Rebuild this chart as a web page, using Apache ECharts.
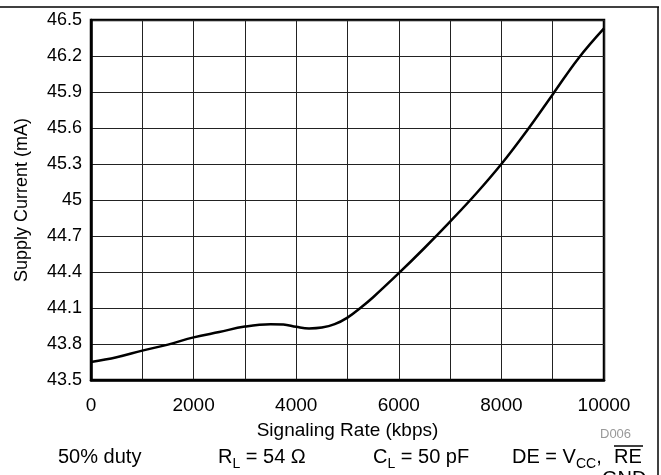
<!DOCTYPE html>
<html>
<head>
    <meta charset="utf-8">
    <title>Supply Current vs Signaling Rate</title>
    <script src="https://cdn.jsdelivr.net/npm/echarts@6/dist/echarts.min.js"></script>
    <style>
        html, body { margin: 0; padding: 0; background: #fff; }
        #chart1 { width: 661px; height: 475px; }
    </style>
</head>
<body>
<div id="chart1"></div>
<script>
    // 曲线数据 (kbps, mA)
    var rates = [0, 500, 1000, 1500, 2000, 2500, 3000, 3500, 3750, 4000, 4250, 4500, 4750, 5000,
        5250, 5500, 6000, 6500, 7000, 7500, 8000, 8500, 9000, 9500, 10000];
    var currents = [43.65, 43.69, 43.745, 43.795, 43.855, 43.9, 43.945, 43.965, 43.962, 43.943, 43.93, 43.937, 43.965, 44.02,
        44.1, 44.19, 44.39, 44.6, 44.82, 45.05, 45.3, 45.58, 45.88, 46.18, 46.43];
    var xTicks = [0, 2000, 4000, 6000, 8000, 10000];
    var yMin = 43.5, yMax = 46.5, yStep = 0.3;

    var font = 'Liberation Sans, Arial, sans-serif';
    var pts = rates.map(function (r, i) { return [r, currents[i]]; });

    // 下方条件文字的样式（带下标）
    var noteRich = {
        a: { fontSize: 20, fontFamily: font, color: '#000', verticalAlign: 'bottom' },
        s: { fontSize: 14, fontFamily: font, color: '#000', verticalAlign: 'bottom', padding: [0, 0, -4, 0] }
    };

    var myChart1 = echarts.init(document.getElementById('chart1'));
    myChart1.setOption({
        animation: false,
        backgroundColor: '#fff',
        grid: {
            left: 91, top: 20, right: 57, bottom: 95,
            show: true, borderColor: '#000', borderWidth: 2.5
        },
        xAxis: {
            type: 'value', min: 0, max: 10000, interval: 1000,
            name: 'Signaling Rate (kbps)', nameLocation: 'middle', nameGap: 41,
            nameTextStyle: { color: '#000', fontSize: 19, fontFamily: font },
            axisLine: { lineStyle: { color: '#000', width: 2.5 } },
            axisTick: { show: false },
            axisLabel: {
                color: '#000', fontSize: 19, fontFamily: font, margin: 16,
                formatter: function (v) { return xTicks.indexOf(v) >= 0 ? String(v) : ''; }
            },
            splitLine: { lineStyle: { color: '#222', width: 1 } }
        },
        yAxis: {
            type: 'value', min: yMin, max: yMax, interval: yStep,
            name: 'Supply Current (mA)', nameLocation: 'middle', nameGap: 60,
            nameTextStyle: { color: '#000', fontSize: 18, fontFamily: font },
            axisLine: { lineStyle: { color: '#000', width: 2.5 } },
            axisTick: { show: false },
            axisLabel: {
                color: '#000', fontSize: 18, fontFamily: font, margin: 9,
                formatter: function (v) { return String(parseFloat(v.toFixed(1))); }
            },
            splitLine: { lineStyle: { color: '#222', width: 1 } }
        },
        series: [{
            type: 'line',
            data: pts,
            smooth: 0.4,
            symbol: 'none',
            lineStyle: { color: '#000', width: 2.5 }
        }],
        graphic: [
            { type: 'line', shape: { x1: 0, y1: 7, x2: 659, y2: 7 }, style: { stroke: '#000', lineWidth: 1.5 } },
            { type: 'line', shape: { x1: 658, y1: 7, x2: 658, y2: 475 }, style: { stroke: '#000', lineWidth: 1.5 } },
            { type: 'text', left: 600, top: 428, style: { text: 'D006', fill: '#999', font: '13px ' + font } },
            { type: 'text', left: 58, top: 447, style: { text: '50% duty', fill: '#000', font: '20px ' + font } },
            { type: 'text', left: 218, top: 447, style: { text: '{a|R}{s|L}{a| = 54 Ω}', rich: noteRich } },
            { type: 'text', left: 373, top: 447, style: { text: '{a|C}{s|L}{a| = 50 pF}', rich: noteRich } },
            { type: 'text', left: 512, top: 447, style: { text: '{a|DE = V}{s|CC}{a|,}', rich: noteRich } },
            { type: 'text', left: 614, top: 447, style: { text: 'RE', fill: '#000', font: '20px ' + font } },
            { type: 'line', shape: { x1: 614, y1: 446, x2: 643, y2: 446 }, style: { stroke: '#000', lineWidth: 1.5 } },
            { type: 'text', left: 602, top: 469, style: { text: 'GND', fill: '#000', font: '20px ' + font } }
        ]
    });
</script>
</body>
</html>
